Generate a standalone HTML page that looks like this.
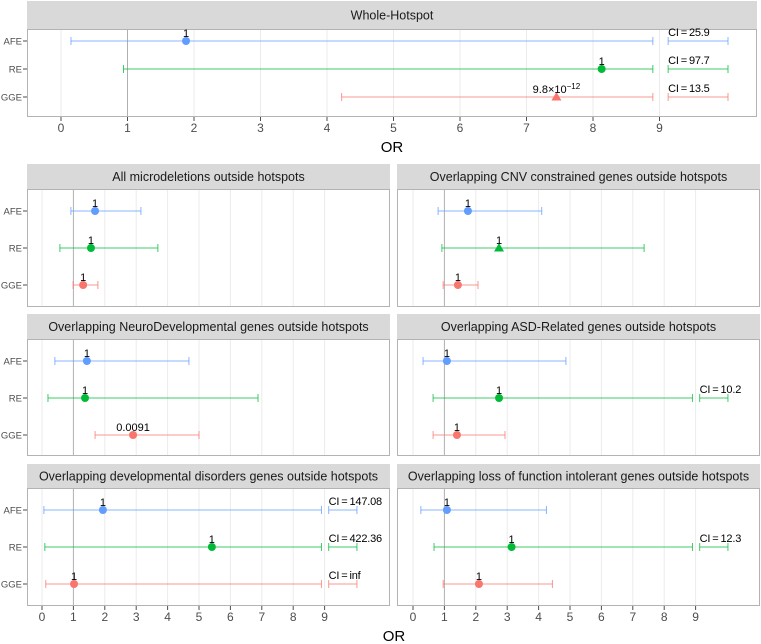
<!DOCTYPE html>
<html><head><meta charset="utf-8"><style>
html,body{margin:0;padding:0;background:#fff;}
svg{display:block;font-family:"Liberation Sans",Arial,sans-serif;}
</style></head><body>
<svg id="chart" width="761" height="644" viewBox="0 0 761 644"></svg>
<script>
// ---- data ----
const models = ["AFE","RE","GGE"];
const panelTitles = ["Whole-Hotspot","All microdeletions outside hotspots","Overlapping CNV constrained genes outside hotspots","Overlapping NeuroDevelopmental genes outside hotspots","Overlapping ASD-Related genes outside hotspots","Overlapping developmental disorders genes outside hotspots","Overlapping loss of function intolerant genes outside hotspots"];
// per panel: [AFE, RE, GGE]
const orValues = [[1.88,8.13,7.45],[1.69,1.56,1.31],[1.75,2.74,1.43],[1.43,1.37,2.9],[1.08,2.74,1.4],[1.94,5.41,1.02],[1.08,3.14,2.1]];
const ciLow = [[0.15,0.94,4.22],[0.92,0.57,0.99],[0.8,0.92,0.96],[0.41,0.19,1.69],[0.32,0.64,0.64],[0.06,0.09,0.12],[0.25,0.67,0.96]];
const ciHigh = [[25.9,97.7,13.5],[3.15,3.69,1.78],[4.1,7.36,2.07],[4.68,6.88,5.0],[4.87,10.2,2.93],[147.08,422.36,Infinity],[4.25,12.3,4.44]];
const pLabels = [["1","1","9.8e-12"],["1","1","1"],["1","1","1"],["1","1","0.0091"],["1","1","1"],["1","1","1"],["1","1","1"]];
const shapes = [["c","c","t"],["c","c","c"],["c","t","c"],["c","c","c"],["c","c","c"],["c","c","c"],["c","c","c"]];
const xTicks = [0,1,2,3,4,5,6,7,8,9];

const colors = {AFE:"#619CFF",RE:"#00BA38",GGE:"#F8766D"};
const NS = "http://www.w3.org/2000/svg";
const svg = document.getElementById("chart");
function mk(tag, attrs, parent){const e=document.createElementNS(NS,tag);for(const k in attrs)e.setAttribute(k,attrs[k]);(parent||svg).appendChild(e);return e;}

const layout = [
 {st:1,sb:29,pb:117,l:27,r:757,x0:61,u:66.5,ylab:true,xax:true,rows:[41,69,97]},
 {st:164,sb:189,pb:307,l:27,r:390,x0:42,u:31.4,ylab:true,xax:false},
 {st:164,sb:189,pb:307,l:397,r:760,x0:413,u:31.4,ylab:false,xax:false},
 {st:314,sb:339,pb:456,l:27,r:390,x0:42,u:31.4,ylab:true,xax:false},
 {st:314,sb:339,pb:456,l:397,r:760,x0:413,u:31.4,ylab:false,xax:false},
 {st:464,sb:488,pb:606,l:27,r:390,x0:42,u:31.4,ylab:true,xax:true},
 {st:464,sb:488,pb:606,l:397,r:760,x0:413,u:31.4,ylab:false,xax:true}
];

panelTitles.forEach((title,p)=>{
  const L = layout[p];
  const g = mk("g",{});
  
  
  const xs = v => L.x0 + v*L.u;
  const rows = L.rows || [L.sb+22, L.sb+59, L.sb+96];
  const strip = mk("rect",{x:L.l,y:L.st,width:L.r-L.l,height:L.sb-L.st,fill:"#d9d9d9"},g);
  
  
  const st = mk("text",{x:(L.l+L.r)/2,y:(L.st+L.sb)/2+4.5,"text-anchor":"middle","font-size":"12.5",fill:"#1a1a1a"},g);
  st.textContent = title;
  
  
  xTicks.forEach(t=>{
    mk("line",{x1:xs(t),x2:xs(t),y1:L.sb,y2:L.pb,stroke:t===1?"#b0b0b0":"#ebebeb","stroke-width":1},g);
  });
  const border = mk("rect",{x:L.l+0.5,y:L.sb+0.5,width:L.r-L.l-1,height:L.pb-L.sb-1,fill:"none",stroke:"#b3b3b3"},g);
  
  
  if(L.ylab){
    models.forEach((m,i)=>{
      const t = mk("text",{x:22,y:rows[i]+3.5,"text-anchor":"end","font-size":"9.5",fill:"#4d4d4d"},g);
      t.textContent = m;
      
      
      mk("line",{x1:23,x2:27,y1:rows[i],y2:rows[i],stroke:"#4d4d4d"},g);
    });
  }
  if(L.xax){
    xTicks.forEach(t=>{
      mk("line",{x1:xs(t),x2:xs(t),y1:L.pb,y2:L.pb+4,stroke:"#4d4d4d"},g);
      const tl = mk("text",{x:xs(t),y:L.pb+15,"text-anchor":"middle","font-size":"12",fill:"#4d4d4d"},g);
      tl.textContent = t;
      
      
    });
  }
  models.forEach((m,i)=>{
    const c = colors[m], y = rows[i];
    const pt = orValues[p][i], lo = ciLow[p][i], hi = ciHigh[p][i];
    const sg = mk("g",{},g);
    
    
    const cap = (x)=>mk("line",{x1:x,x2:x,y1:y-4,y2:y+4,stroke:c,"stroke-opacity":0.75},sg);
    const trunc = hi > 9;
    const hiDraw = trunc ? 8.9 : hi;
    mk("line",{x1:xs(lo),x2:xs(hiDraw),y1:y,y2:y,stroke:c,"stroke-opacity":0.75},sg);
    cap(xs(lo)); cap(xs(hiDraw));
    if(trunc){
      const a=xs(9.13), b=xs(10.03);
      mk("line",{x1:a,x2:b,y1:y,y2:y,stroke:c,"stroke-opacity":0.75},sg);
      cap(a); cap(b);
      const ct = mk("text",{x:a,y:y-5,"font-size":"11",fill:"#000","letter-spacing":"-0.2"},sg);
      ct.textContent = "CI\u2009=\u2009" + (hi===Infinity ? "inf" : hi);
      
      
    }
    const px = xs(pt);
    if(shapes[p][i]==="t"){
      mk("polygon",{points:`${px-5},${y+3.5} ${px+5},${y+3.5} ${px},${y-5}`,fill:c},sg);
    } else {
      mk("circle",{cx:px,cy:y,r:4,fill:c},sg);
    }
    const lab = pLabels[p][i];
    const pl = mk("text",{x:px,y:y-4,"text-anchor":"middle","font-size":"11",fill:"#000"},sg);
    
    
    if(lab.indexOf("e")>0){
      const parts = lab.split("e");
      pl.textContent = parts[0]+"\u00d710";
      const sup = mk("tspan",{"font-size":"8",dy:"-4"},pl);
      sup.textContent = "\u2212"+parts[1].replace("-","");
    } else pl.textContent = lab;
  });
});
const o1 = mk("text",{x:392,y:152,"text-anchor":"middle","font-size":"15",fill:"#000"});
o1.textContent = "OR";


const o2 = mk("text",{x:394,y:641,"text-anchor":"middle","font-size":"15",fill:"#000"});
o2.textContent = "OR";


</script>
</body></html>
